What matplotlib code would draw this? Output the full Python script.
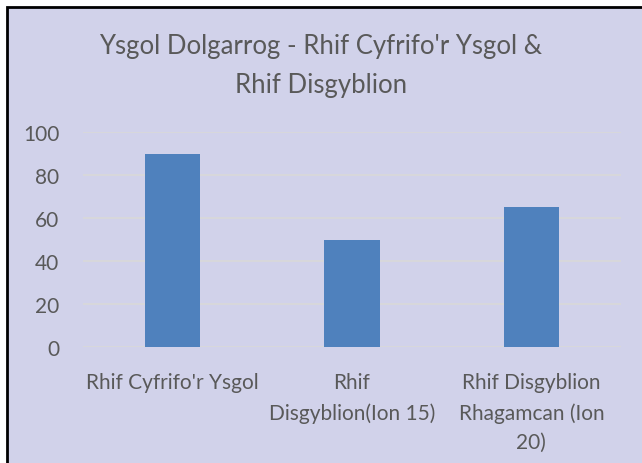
import matplotlib.pyplot as plt
from matplotlib.patches import Rectangle

# Datos del gráfico
categorias = ["Rhif Cyfrifo'r Ysgol", "Rhif\nDisgyblion(Ion 15)", "Rhif Disgyblion\nRhagamcan (Ion\n20)"]
valores = [90, 50, 65]
ticks_y = [0, 20, 40, 60, 80, 100]
titulo = "Ysgol Dolgarrog - Rhif Cyfrifo'r Ysgol &\nRhif Disgyblion"

fondo = "#D1D2EA"
azul = "#4F81BD"
gris_texto = "#595959"
plt.rcParams['font.family'] = ['Lato', 'DejaVu Sans']

fig = plt.figure(figsize=(6.42, 4.64), dpi=100)
fig.patch.set_facecolor("white")

# Marco de fondo con borde negro (solo se ve arriba y a la izquierda)
marco = Rectangle((7 / 642, -0.05), 1.1, 1 - 8 / 464 + 0.05, transform=fig.transFigure,
                  facecolor=fondo, edgecolor="black", linewidth=2, zorder=-5)
fig.patches.append(marco)

ax = fig.add_axes([83 / 642, 1 - 348 / 464, (621 - 83) / 642, (348 - 133) / 464])
ax.set_facecolor("none")
x = range(len(categorias))
ax.bar(x, valores, width=0.31, color=azul, zorder=3)
ax.set_xlim(-0.5, len(categorias) - 0.5)
ax.set_ylim(0, 100)
ax.set_yticks(ticks_y)
ax.set_xticks(list(x))
ax.set_xticklabels(categorias, linespacing=1.6)
ax.grid(axis='y', color="#D9D9D9", linewidth=1.2, zorder=0)
for s in ax.spines.values():
    s.set_visible(False)
ax.tick_params(axis='both', length=0, labelsize=15, colors=gris_texto)
ax.tick_params(axis='y', pad=17)
ax.tick_params(axis='x', pad=18)

fig.text(0.5, 1 - 66 / 464, titulo, ha='center', va='center', fontsize=18.5,
         color=gris_texto, linespacing=1.7)

plt.savefig("out.png", dpi=100, facecolor=fig.get_facecolor())
